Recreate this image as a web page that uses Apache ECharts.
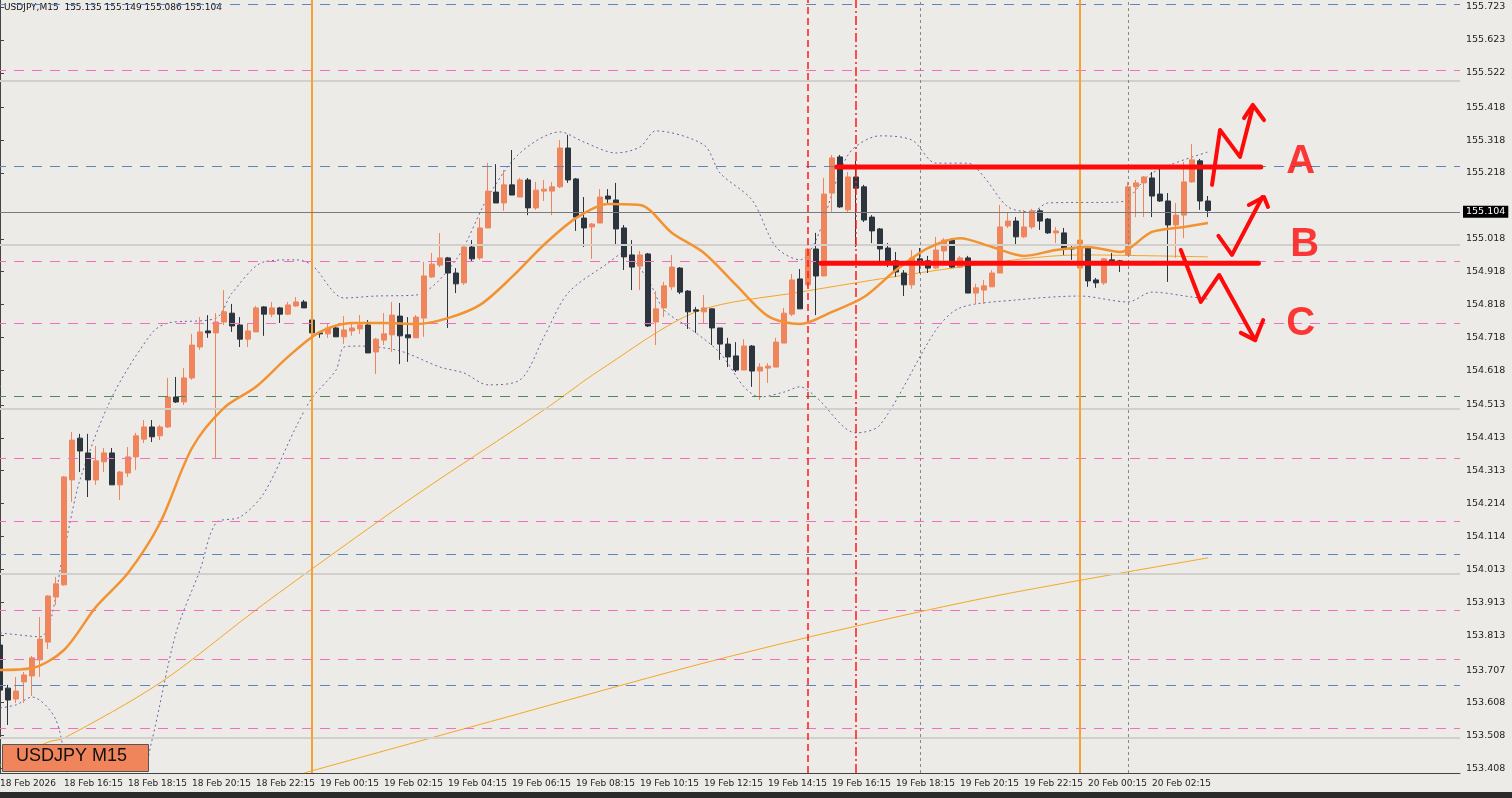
<!DOCTYPE html>
<html>
<head>
<meta charset="utf-8">
<script src="https://cdn.jsdelivr.net/npm/echarts@6/dist/echarts.min.js"></script>
<style>
  html, body { margin: 0; padding: 0; background: #ecebe7; overflow: hidden; }
  #chart { width: 1516px; height: 798px; margin-left: -4px; }
</style>
</head>
<body>
<div id="chart"></div>
<script>
// USDJPY M15 candles, [open, close, low, high], first bar 18 Feb 2026 14:15
const candles = [
  [153.783,153.646,153.549,153.814],[153.652,153.616,153.540,153.662],[153.619,153.643,153.607,153.686],[153.671,153.692,153.607,153.701],
  [153.689,153.744,153.628,153.750],[153.738,153.801,153.686,153.868],[153.792,153.932,153.771,153.935],[153.929,153.969,153.905,153.990],
  [153.966,154.294,153.963,154.297],[154.285,154.406,154.218,154.431],[154.412,154.373,154.309,154.425],[154.367,154.285,154.233,154.425],
  [154.285,154.343,154.270,154.388],[154.340,154.367,154.309,154.382],[154.367,154.270,154.270,154.382],[154.270,154.309,154.224,154.312],
  [154.306,154.355,154.294,154.385],[154.355,154.419,154.315,154.428],[154.409,154.446,154.397,154.467],[154.446,154.416,154.400,154.467],
  [154.419,154.446,154.406,154.452],[154.446,154.537,154.443,154.595],[154.537,154.522,154.519,154.598],[154.522,154.595,154.513,154.625],
  [154.595,154.695,154.589,154.729],[154.689,154.735,154.680,154.780],[154.738,154.732,154.717,154.786],[154.732,154.765,154.352,154.792],
  [154.765,154.796,154.756,154.862],[154.792,154.753,154.735,154.820],[154.756,154.713,154.689,154.780],[154.713,154.738,154.689,154.762],
  [154.735,154.808,154.735,154.814],[154.811,154.789,154.723,154.813],[154.789,154.808,154.780,154.826],[154.808,154.789,154.762,154.811],
  [154.789,154.817,154.786,154.826],[154.814,154.826,154.811,154.841],[154.826,154.808,154.808,154.832],[154.771,154.732,154.726,154.783],
  [154.732,154.729,154.717,154.735],[154.729,154.747,154.717,154.762],[154.747,154.720,154.720,154.750],[154.720,154.741,154.698,154.783],
  [154.738,154.747,154.723,154.765],[154.744,154.756,154.729,154.786],[154.756,154.671,154.671,154.771],[154.674,154.713,154.607,154.717],
  [154.710,154.729,154.695,154.792],[154.726,154.786,154.674,154.826],[154.783,154.723,154.637,154.823],[154.726,154.717,154.644,154.780],
  [154.717,154.780,154.717,154.786],[154.777,154.905,154.720,154.948],[154.902,154.941,154.899,154.975],[154.938,154.960,154.932,155.036],
  [154.960,154.914,154.747,154.963],[154.914,154.881,154.853,154.929],[154.884,154.993,154.878,155.002],[154.993,154.957,154.948,155.014],
  [154.960,155.051,154.954,155.081],[155.051,155.163,155.051,155.249],[155.160,155.127,155.127,155.245],[155.127,155.182,155.103,155.227],
  [155.182,155.151,155.151,155.288],[155.145,155.197,155.145,155.203],[155.197,155.112,155.090,155.203],[155.112,155.166,155.106,155.191],
  [155.163,155.169,155.133,155.197],[155.163,155.176,155.090,155.191],[155.176,155.294,155.172,155.318],[155.294,155.197,155.188,155.334],
  [155.200,155.084,155.042,155.203],[155.081,155.051,154.993,155.145],[155.054,155.063,154.957,155.066],[155.066,155.145,155.066,155.169],
  [155.148,155.139,155.121,155.169],[155.136,155.048,154.999,155.188],[155.051,154.963,154.923,155.060],[154.969,154.932,154.862,155.014],
  [154.935,154.969,154.862,154.981],[154.972,154.753,154.750,154.975],[154.765,154.805,154.695,154.859],[154.808,154.875,154.780,154.887],
  [154.872,154.932,154.862,154.969],[154.929,154.856,154.850,154.932],[154.859,154.796,154.744,154.862],[154.802,154.798,154.732,154.811],
  [154.796,154.808,154.759,154.847],[154.805,154.747,154.695,154.805],[154.747,154.698,154.650,154.747],[154.698,154.659,154.628,154.717],
  [154.662,154.619,154.613,154.704],[154.619,154.692,154.619,154.713],[154.692,154.616,154.568,154.695],[154.616,154.628,154.528,154.640],
  [154.625,154.631,154.580,154.640],[154.628,154.704,154.628,154.717],[154.701,154.792,154.701,154.808],[154.789,154.893,154.783,154.911],
  [154.896,154.805,154.805,154.926],[154.878,154.987,154.872,154.990],[154.987,154.905,154.786,155.036],[154.905,155.154,154.905,155.203],
  [155.157,155.264,155.100,155.273],[155.267,155.115,155.112,155.273],[155.106,155.206,155.100,155.221],[155.206,155.172,154.993,155.255],
  [155.176,155.075,155.069,155.182],[155.084,155.042,155.005,155.090],[155.048,154.987,154.948,155.051],[154.990,154.951,154.932,155.005],
  [154.951,154.917,154.902,154.978],[154.914,154.878,154.844,154.923],[154.878,154.960,154.866,154.984],[154.957,154.951,154.914,154.990],
  [154.951,154.929,154.914,154.966],[154.929,154.984,154.926,155.024],[154.981,155.014,154.951,155.020],[155.014,154.932,154.929,155.020],
  [154.932,154.960,154.929,154.966],[154.960,154.853,154.853,154.966],[154.853,154.869,154.820,154.881],[154.862,154.875,154.820,154.893],
  [154.872,154.914,154.872,154.923],[154.914,155.054,154.914,155.121],[155.057,155.072,155.051,155.097],[155.072,155.024,154.996,155.084],
  [155.024,155.054,155.020,155.106],[155.054,155.103,155.048,155.109],[155.103,155.072,155.045,155.109],[155.078,155.036,155.033,155.081],
  [155.036,155.042,155.005,155.054],[155.036,154.987,154.969,155.051],[154.990,154.987,154.954,154.999],[154.929,155.014,154.926,155.017],
  [154.990,154.890,154.872,154.993],[154.893,154.884,154.869,154.899],[154.884,154.957,154.878,154.960],[154.954,154.945,154.945,154.975],
  [154.951,154.948,154.917,154.954],[154.969,155.176,154.966,155.191],[155.176,155.188,155.084,155.197],[155.188,155.206,155.084,155.209],
  [155.203,155.148,155.084,155.221],[155.154,155.133,155.130,155.230],[155.133,155.060,154.887,155.157],[155.060,155.090,154.960,155.127],
  [155.090,155.191,155.020,155.252],[155.191,155.258,155.188,155.306],[155.255,155.133,155.106,155.261],[155.133,155.104,155.084,155.148]
];

// indicator lines at bar indices
const maFastIdx = [0,4,8,12,16,20,24,28,32,36,40,44,48,52,56,60,64,68,72,76,80,84,88,92,96,100,104,108,112,116,120,124,128,132,136,140,144,148,151];
const maFast = [153.707,153.713,153.768,153.899,154.002,154.154,154.382,154.504,154.568,154.659,154.735,154.762,154.762,154.759,154.777,154.817,154.902,155.000,155.081,155.124,155.121,155.036,154.975,154.878,154.783,154.759,154.796,154.841,154.923,154.990,155.020,154.993,154.966,154.984,154.993,154.978,155.039,155.054,155.066];

const maMidIdx = [0,6,8,20,32,40,52,68,75,87,100,120,135,151];
const maMid = [153.418,153.488,153.500,153.668,153.890,154.032,154.239,154.498,154.619,154.796,154.856,154.932,154.969,154.963];

const maSlowIdx = [38,62,87,106,125,151];
const maSlow = [153.394,153.555,153.722,153.835,153.935,154.048];

const bbUpIdx = [0,5,8,10,14,19,21,27,29,33,37,39,43,47,52,57,61,65,70,73,77,80,82,88,90,94,97,100,102,106,110,114,117,121,123,126,129,131,140,144,151];
const bbUp = [153.820,153.808,154.072,154.285,154.537,154.732,154.762,154.777,154.853,154.948,154.954,154.938,154.838,154.844,154.847,154.954,155.145,155.279,155.343,155.312,155.279,155.297,155.346,155.303,155.218,155.136,154.993,154.954,155.014,155.273,155.331,155.318,155.248,155.248,155.206,155.115,155.100,155.127,155.130,155.218,155.282];

const bbLowIdx = [0,2,4,7,9,12,17,19,22,25,27,30,33,37,39,42,43,45,50,55,58,61,65,68,71,76,78,81,83,86,90,93,95,98,100,102,107,110,117,120,127,135,141,144,149,151];
const bbLow = [153.592,153.601,153.625,153.555,153.340,153.250,153.330,153.494,153.820,154.011,154.154,154.172,154.245,154.446,154.534,154.619,154.689,154.692,154.677,154.628,154.610,154.574,154.589,154.720,154.853,154.944,154.975,154.893,154.802,154.750,154.671,154.568,154.537,154.552,154.568,154.537,154.428,154.452,154.741,154.808,154.832,154.844,154.826,154.856,154.841,154.835];

// chart levels
const levelsBlue = [155.729, 155.242, 154.060, 153.659];
const levelsPink = [155.525, 154.948, 154.759, 154.355, 154.160, 153.893, 153.735, 153.534];
const levelsGreen = [154.537];
const levelsRound = [155.5, 155.0, 154.5, 154.0, 153.5];
const dayBreaks = [39, 135];
const redDashed = [101];
const redDashDot = [107];
const greyDotted = [115, 141];
const lastPrice = 155.104;

const yTicks = [155.723,155.623,155.522,155.418,155.318,155.218,155.018,154.918,154.818,154.718,154.618,154.513,154.413,154.313,154.214,154.114,154.013,153.913,153.813,153.707,153.608,153.508,153.408];
const xLabels = ['18 Feb 2026','18 Feb 16:15','18 Feb 18:15','18 Feb 20:15','18 Feb 22:15','19 Feb 00:15','19 Feb 02:15','19 Feb 04:15','19 Feb 06:15','19 Feb 08:15','19 Feb 10:15','19 Feb 12:15','19 Feb 14:15','19 Feb 16:15','19 Feb 18:15','19 Feb 20:15','19 Feb 22:15','20 Feb 00:15','20 Feb 02:15'];

// hand-drawn annotations, [bar index, price]
const boxTop = [[104.6,155.236],[157.6,155.236]];
const boxBottom = [[102.6,154.944],[157.3,154.944]];
const arrowA = [[151.5,155.182],[152.5,155.349],[155.0,155.267],[156.6,155.419]];
const headA = [[155.5,155.385],[156.6,155.425],[158.0,155.379]];
const arrowB = [[152.3,155.027],[154.0,154.969],[157.8,155.145]];
const headB = [[156.1,155.121],[158.0,155.145],[158.5,155.115]];
const arrowC = [[147.6,154.984],[150.1,154.826],[152.4,154.908],[156.9,154.710]];
const headC = [[155.1,154.732],[156.9,154.710],[157.9,154.771]];
const letters = [['A',162.6,155.252],['B',163.1,155.000],['C',162.6,154.759]];

const NBANDS = 183;
const cats = [];
for (let i = 0; i < NBANDS; i++) cats.push(String(i));
const pair = (idx, vals) => idx.map((v, k) => [v, vals[k]]);
const showLabel = (i) => i % 8 === 0 && i / 8 < xLabels.length;

const hLines = (vals, color, type, width) => vals.map(v => ({
  yAxis: v, lineStyle: { color, type, width: width || 1 }
}));
const vLines = (vals, color, type, width) => vals.map(v => ({
  xAxis: v, lineStyle: { color, type, width: width || 1 }
}));

const redLine = (data, w) => ({
  type: 'line', xAxisIndex: 1, data, symbol: 'none', silent: true,
  lineStyle: { color: '#ff0a0a', width: w || 5, cap: 'round', join: 'round' }, z: 20
});

// div is shifted 4px left, so graphic x positions add 4
const OX = 4;

const chart = echarts.init(document.getElementById('chart'));
chart.setOption({
  animation: false,
  backgroundColor: '#ecebe7',
  textStyle: { fontFamily: 'DejaVu Sans' },
  grid: { left: 0, width: NBANDS * 8, top: 0, bottom: 25 },
  xAxis: [{
    type: 'category', data: cats, boundaryGap: true,
    axisLine: { lineStyle: { color: '#444' } },
    axisTick: { interval: (i) => showLabel(i), length: 4, lineStyle: { color: '#444' }, alignWithLabel: true },
    axisLabel: {
      interval: (i) => showLabel(i), align: 'left', margin: 6,
      formatter: (v, i) => xLabels[i / 8] || '', fontSize: 9, color: '#222'
    },
    splitLine: { show: false }
  }, {
    type: 'value', min: -0.5, max: NBANDS - 0.5, show: false
  }],
  yAxis: {
    type: 'value', position: 'right', min: 153.394, max: 155.744, scale: true,
    axisLine: { show: true, lineStyle: { color: '#444' } },
    axisTick: { show: true, length: 4, customValues: yTicks, lineStyle: { color: '#444' } },
    axisLabel: { customValues: yTicks, formatter: (v) => v.toFixed(3), fontSize: 9.5, color: '#222', margin: 6 },
    splitLine: { show: false }
  },
  series: [
    {
      type: 'line', xAxisIndex: 1, data: [], silent: true,
      markLine: {
        symbol: 'none', silent: true, label: { show: false },
        data: [].concat(
          hLines(levelsRound, '#d2d0cd', 'solid', 2),
          hLines(levelsBlue, '#5b86bf', [10, 8]),
          hLines(levelsPink, '#f26fbf', [10, 8]),
          hLines(levelsGreen, '#4e8a5e', [10, 8]),
          vLines(dayBreaks, '#f5a030', 'solid', 2),
          vLines(greyDotted, '#888', [3, 3]),
          vLines(redDashed, '#ff1a1a', [7, 4], 1.5),
          vLines(redDashDot, '#ff1a1a', [9, 3, 2, 3], 1.5)
        )
      }
    },
    {
      type: 'line', xAxisIndex: 1, data: [], silent: true,
      markLine: {
        symbol: 'none', silent: true,
        data: [{
          yAxis: lastPrice, lineStyle: { color: '#7a7a7a', type: 'solid', width: 1 },
          label: { show: true, position: 'end', formatter: lastPrice.toFixed(3), color: '#fff', backgroundColor: '#000', padding: [1, 3], fontSize: 9.5, distance: 3 }
        }]
      }, z: 6
    },
    { type: 'line', xAxisIndex: 1, data: pair(bbUpIdx, bbUp), smooth: 0.3, symbol: 'none', lineStyle: { color: '#6d62a6', width: 1, type: [2, 3] }, z: 3 },
    { type: 'line', xAxisIndex: 1, data: pair(bbLowIdx, bbLow), smooth: 0.3, symbol: 'none', lineStyle: { color: '#6d62a6', width: 1, type: [2, 3] }, z: 3 },
    { type: 'line', xAxisIndex: 1, data: pair(maSlowIdx, maSlow), smooth: 0.3, symbol: 'none', lineStyle: { color: '#f5a623', width: 1 }, z: 3 },
    { type: 'line', xAxisIndex: 1, data: pair(maMidIdx, maMid), smooth: 0.3, symbol: 'none', lineStyle: { color: '#f5a623', width: 1 }, z: 3 },
    {
      type: 'candlestick', data: candles, barWidth: 5, z: 4,
      itemStyle: { color: '#f0855c', color0: '#2c343e', borderColor: '#f0855c', borderColor0: '#2c343e', borderWidth: 1 }
    },
    { type: 'line', xAxisIndex: 1, data: pair(maFastIdx, maFast), smooth: 0.3, symbol: 'none', lineStyle: { color: '#f39230', width: 2.5 }, z: 5 },
    redLine(boxTop), redLine(boxBottom),
    redLine(arrowA, 4), redLine(headA, 4),
    redLine(arrowB, 4), redLine(headB, 4),
    redLine(arrowC, 4), redLine(headC, 4),
    {
      type: 'scatter', xAxisIndex: 1, symbolSize: 1, silent: true, z: 20,
      itemStyle: { color: 'rgba(0,0,0,0)' },
      data: letters.map(l => ({ value: [l[1], l[2]], name: l[0] })),
      label: { show: true, position: 'inside', formatter: (p) => p.name, color: '#ff0a0a', fontSize: 40, fontWeight: 'bold', fontFamily: 'Liberation Sans' }
    }
  ],
  graphic: [
    { type: 'text', left: 4 + OX, top: 3, style: { text: 'USDJPY,M15  155.135 155.149 155.086 155.104', fontSize: 9, fill: '#111', fontFamily: 'DejaVu Sans' } },
    { type: 'rect', left: 2 + OX, top: 744, shape: { width: 146, height: 27 }, style: { fill: '#f0855c', stroke: '#555', lineWidth: 1 }, z: 30 },
    { type: 'text', left: 16 + OX, top: 747, style: { text: 'USDJPY M15', fontSize: 18, fill: '#111', fontFamily: 'Liberation Sans' }, z: 31 },
    { type: 'rect', left: 0, top: 792, shape: { width: 1516, height: 6 }, style: { fill: '#2b2b2b' }, z: 30 }
  ]
});
</script>
</body>
</html>
